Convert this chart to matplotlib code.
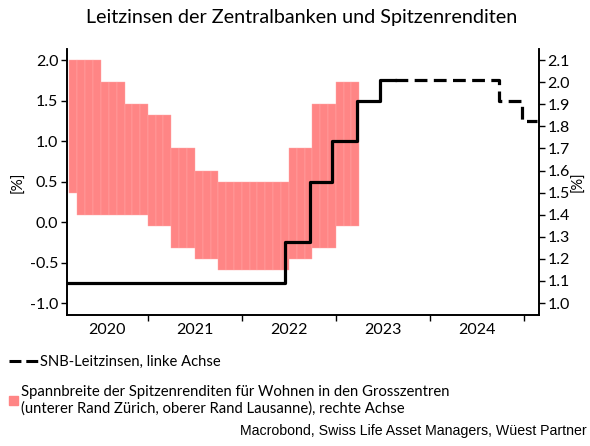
import numpy as np
import pandas as pd
import matplotlib
matplotlib.use('Agg')
import matplotlib.pyplot as plt
import matplotlib.dates as mdates
from matplotlib.lines import Line2D
from matplotlib.patches import Patch

plt.rcParams['font.family'] = ['Lato', 'DejaVu Sans']

# SNB policy rate (left axis), step changes
snb_dates = ['2020-02-19', '2022-06-17', '2022-09-22', '2022-12-15',
             '2023-03-23', '2023-06-22', '2023-08-18']
snb_vals = [-0.75, -0.25, 0.50, 1.00, 1.50, 1.75, 1.75]

# forecast part (dashed)
fc_dates = ['2023-08-18', '2024-09-26', '2024-12-26', '2025-02-22']
fc_vals = [1.75, 1.50, 1.25, 1.25]

# prime yields range (right axis), per period: start month, number of months
band_start = ['2020-03', '2020-04', '2020-07', '2020-10', '2021-01', '2021-04',
              '2021-07', '2021-10', '2022-01', '2022-04', '2022-07', '2022-10',
              '2023-01']
band_months = [1, 3, 3, 3, 3, 3, 3, 3, 3, 3, 3, 3, 3]
band_top = [2.10, 2.10, 2.00, 1.90, 1.85, 1.70, 1.60, 1.55, 1.55, 1.55,
            1.70, 1.90, 2.00]
band_bottom = [1.50, 1.40, 1.40, 1.40, 1.35, 1.25, 1.20, 1.15, 1.15, 1.15,
               1.20, 1.25, 1.35]

years = [2020, 2021, 2022, 2023, 2024]

# expand band periods to monthly bars
months = pd.date_range('2020-03-01', periods=sum(band_months) + 1, freq='MS')
top_m = np.repeat(band_top, band_months)
bot_m = np.repeat(band_bottom, band_months)
x_m = mdates.date2num(months)
widths = np.diff(x_m)

fig = plt.figure(figsize=(5.9, 4.46), dpi=100)
ax = fig.add_axes([0.113, 0.2937, 0.8006, 0.5963])
ax2 = ax.twinx()

pink = '#ff8585'
ax2.bar(x_m[:-1], top_m - bot_m, bottom=bot_m, width=widths, align='edge',
        color=pink, edgecolor='#ffaaaa', linewidth=0.3, zorder=1)

ax.step(mdates.datestr2num(snb_dates), snb_vals, where='post',
        color='black', lw=2.3, zorder=5)
ax.step(mdates.datestr2num(fc_dates), fc_vals, where='post',
        color='black', lw=2.3, linestyle=(0, (4, 2)), zorder=5)

# bring the left axis (line) on top of the bars
ax.set_zorder(ax2.get_zorder() + 1)
ax.patch.set_visible(False)

xmin = mdates.datestr2num('2020-02-19')
xmax = mdates.datestr2num('2025-03-01')
ax.set_xlim(xmin, xmax)
ax.set_ylim(-1.148, 2.136)
ax2.set_ylim(0.946, 2.150)

ax.set_yticks([-1.0, -0.5, 0.0, 0.5, 1.0, 1.5, 2.0])
ax.set_yticklabels(['-1.0', '-0.5', '0.0', '0.5', '1.0', '1.5', '2.0'])
ax2.set_yticks(np.arange(1.0, 2.11, 0.1))
ax2.set_yticklabels(['%.1f' % v for v in np.arange(1.0, 2.11, 0.1)])

# year boundaries as ticks, labels in the middle of each visible year
bounds = [mdates.datestr2num('%d-01-01' % y) for y in years[1:] + [2025]]
ax.set_xticks(bounds)
ax.set_xticklabels([])
mids = []
for y in years:
    a = max(mdates.datestr2num('%d-01-01' % y), xmin)
    b = min(mdates.datestr2num('%d-01-01' % (y + 1)), xmax)
    mids.append((a + b) / 2)
ax.set_xticks(mids, minor=True)
ax.set_xticklabels([str(y) for y in years], minor=True)
ax.tick_params(axis='x', which='minor', length=0, pad=6, labelsize=11.5)
ax.tick_params(axis='x', which='major', length=4, width=1)
ax.tick_params(axis='y', length=4, width=1, labelsize=11.5, pad=2)
ax2.tick_params(axis='y', length=4, width=1, labelsize=11.5, pad=2)

for a in (ax, ax2):
    a.spines['top'].set_visible(False)
    for s in ('left', 'right', 'bottom'):
        a.spines[s].set_linewidth(1.2)

ax.set_ylabel('[%]', fontsize=11, labelpad=3)
ax2.set_ylabel('[%]', fontsize=10.5, rotation=90, labelpad=1)

fig.text(0.511, 0.96, 'Leitzinsen der Zentralbanken und Spitzenrenditen',
         ha='center', va='center', fontsize=14.2)

leg1 = fig.legend(handles=[Line2D([], [], color='black', lw=2.2,
                                  linestyle=(0, (3.9, 1.6)))],
                  labels=['SNB-Leitzinsen, linke Achse'],
                  loc='center left', bbox_to_anchor=(0.006, 0.188),
                  frameon=False, fontsize=10.6, handlelength=2.0,
                  handletextpad=0.05, borderaxespad=0)
leg2 = fig.legend(handles=[Patch(color=pink)],
                  labels=['Spannbreite der Spitzenrenditen für Wohnen in den Grosszentren\n'
                          '(unterer Rand Zürich, oberer Rand Lausanne), rechte Achse'],
                  loc='center left', bbox_to_anchor=(0.006, 0.103),
                  frameon=False, fontsize=10.7, handlelength=0.55,
                  handleheight=0.55, handletextpad=0.25, borderaxespad=0)

fig.text(0.995, 0.018, 'Macrobond, Swiss Life Asset Managers, Wüest Partner',
         ha='right', va='bottom', fontsize=10.2, family='Liberation Sans')

fig.savefig('out.png', dpi=100)
